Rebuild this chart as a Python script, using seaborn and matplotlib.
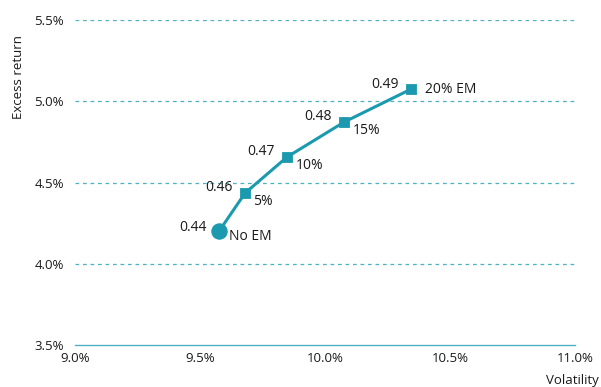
import matplotlib
matplotlib.use("Agg")
import matplotlib.pyplot as plt
import seaborn as sns
import pandas as pd

labels = ["No EM", "5%", "10%", "15%", "20% EM"]
volatility = [9.576, 9.68, 9.848, 10.076, 10.344]
excess_return = [4.20, 4.435, 4.657, 4.872, 5.075]
sharpe = ["0.44", "0.46", "0.47", "0.48", "0.49"]
x_ticks = [9.0, 9.5, 10.0, 10.5, 11.0]
y_ticks = [3.5, 4.0, 4.5, 5.0, 5.5]

sns.set_theme(style="white")
plt.rcParams['font.family'] = ['Open Sans', 'DejaVu Sans']

teal = "#1b9aaf"
grid_c = "#4fb0c2"
txt = "#1a1a1a"
df = pd.DataFrame({"vol": volatility, "ret": excess_return, "label": labels, "sharpe": sharpe})

fig = plt.figure(figsize=(6.01, 3.87), dpi=100)
ax = fig.add_axes([0.1248, 0.1085, 0.8319, 0.8395])

sns.lineplot(data=df, x="vol", y="ret", ax=ax, color=teal, linewidth=2.2, sort=False)
sns.scatterplot(data=df.iloc[:1], x="vol", y="ret", ax=ax, color=teal, s=120, marker="o", edgecolor=teal, zorder=5)
sns.scatterplot(data=df.iloc[1:], x="vol", y="ret", ax=ax, color=teal, s=55, marker="s", edgecolor=teal, zorder=5)

fs = 10
for i, r in df.iterrows():
    if i == 0:
        ax.annotate(r["sharpe"], (r["vol"], r["ret"]), xytext=(-9, 3), textcoords="offset points",
                    ha="right", va="center", fontsize=fs, color=txt)
        ax.annotate(r["label"], (r["vol"], r["ret"]), xytext=(7, -4), textcoords="offset points",
                    ha="left", va="center", fontsize=fs, color=txt)
    elif i == 4:
        ax.annotate(r["sharpe"], (r["vol"], r["ret"]), xytext=(-9, 3), textcoords="offset points",
                    ha="right", va="center", fontsize=fs, color=txt)
        ax.annotate(r["label"], (r["vol"], r["ret"]), xytext=(10, 0), textcoords="offset points",
                    ha="left", va="center", fontsize=fs, color=txt)
    else:
        ax.annotate(r["sharpe"], (r["vol"], r["ret"]), xytext=(-9, 4), textcoords="offset points",
                    ha="right", va="center", fontsize=fs, color=txt)
        ax.annotate(r["label"], (r["vol"], r["ret"]), xytext=(6, -6), textcoords="offset points",
                    ha="left", va="center", fontsize=fs, color=txt)

ax.set_xlim(9.0, 11.0)
ax.set_ylim(3.5, 5.5)
ax.set_xticks(x_ticks)
ax.set_xticklabels([f"{v:.1f}%" for v in x_ticks], fontsize=9.5, color=txt)
ax.set_yticks(y_ticks)
ax.set_yticklabels([f"{v:.1f}%" for v in y_ticks], fontsize=9.5, color=txt)

for yv in y_ticks[1:]:
    ax.axhline(yv, color=grid_c, linestyle=(0, (3, 3)), linewidth=0.9, zorder=0)

for s in ["top", "right", "left"]:
    ax.spines[s].set_visible(False)
ax.spines["bottom"].set_color(grid_c)
ax.spines["bottom"].set_linewidth(1.0)
ax.tick_params(axis="x", direction="in", length=4, color=grid_c, width=1, pad=5)
ax.tick_params(axis="y", length=0, pad=8)

ax.set_xlabel("")
ax.set_ylabel("")
fig.text(0.03, 0.80, "Excess return", rotation=90, ha="center", va="center", fontsize=9.5, color=txt)
fig.text(0.997, 0.018, "Volatility", ha="right", va="center", fontsize=9.5, color=txt)

fig.savefig("out.png", dpi=100)
